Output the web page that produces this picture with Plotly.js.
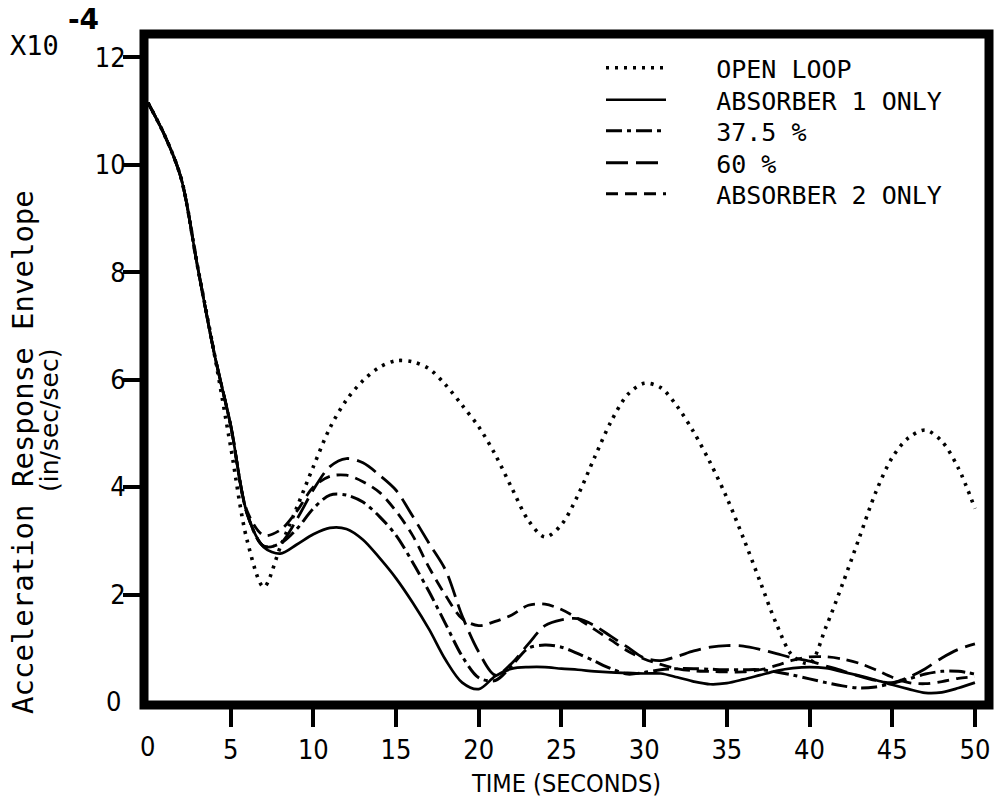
<!DOCTYPE html>
<html><head><meta charset="utf-8">
<script src="https://cdn.plot.ly/plotly-3.0.1.min.js"></script>
<style>html,body{margin:0;padding:0;background:#fff}#chart{width:994px;height:804px}</style>
</head><body><div id="chart"></div>
<script>
const timeSec = [0,1,2,3,4,5,6,7,8,9,10,11,12,13,14,15,16,17,18,19,20,21,22,23,24,25,26,27,28,29,30,31,32,33,34,35,36,37,38,39,40,41,42,43,44,45,46,47,48,49,50];

const openLoop = [11.15,10.55,9.75,8.1,6.5,4.75,3.0,2.14,2.88,3.62,4.38,5.1,5.62,5.98,6.23,6.35,6.33,6.2,5.9,5.52,5.12,4.6,3.98,3.38,3.07,3.3,3.85,4.55,5.22,5.72,5.93,5.85,5.5,5.02,4.45,3.8,3.05,2.25,1.45,0.85,0.72,1.4,2.2,3.05,3.9,4.55,4.92,5.06,4.85,4.35,3.6];

const absorber1 = [11.15,10.55,9.75,8.1,6.5,5.15,3.5,2.88,2.76,2.93,3.12,3.24,3.22,3.02,2.68,2.3,1.85,1.35,0.78,0.36,0.24,0.48,0.62,0.65,0.65,0.62,0.6,0.57,0.55,0.54,0.53,0.53,0.46,0.38,0.33,0.35,0.42,0.5,0.58,0.63,0.65,0.63,0.56,0.49,0.41,0.32,0.24,0.17,0.18,0.26,0.36];

const pct375 = [11.15,10.55,9.75,8.1,6.5,5.15,3.5,2.9,2.95,3.22,3.6,3.85,3.85,3.72,3.45,3.1,2.6,2.05,1.45,0.85,0.45,0.4,0.68,1.0,1.06,1.02,0.9,0.76,0.62,0.52,0.55,0.6,0.62,0.62,0.61,0.6,0.6,0.6,0.56,0.5,0.43,0.36,0.3,0.26,0.28,0.35,0.43,0.52,0.57,0.57,0.52];

const pct60 = [11.15,10.55,9.75,8.1,6.5,5.15,3.5,2.9,2.95,3.4,3.95,4.38,4.53,4.45,4.22,3.94,3.46,2.95,2.45,1.6,0.93,0.5,0.72,1.08,1.42,1.53,1.55,1.42,1.22,1.02,0.82,0.77,0.85,0.95,1.02,1.05,1.04,0.98,0.9,0.82,0.76,0.67,0.58,0.48,0.4,0.36,0.46,0.62,0.82,0.98,1.08];

const absorber2 = [11.15,10.55,9.75,8.1,6.5,5.15,3.55,3.1,3.2,3.55,4.0,4.2,4.22,4.1,3.9,3.55,3.1,2.5,1.98,1.55,1.42,1.5,1.62,1.8,1.82,1.72,1.55,1.35,1.15,0.95,0.8,0.7,0.62,0.58,0.57,0.56,0.56,0.6,0.68,0.78,0.84,0.84,0.8,0.72,0.6,0.46,0.36,0.34,0.38,0.44,0.47];

const seriesNames = ['OPEN LOOP','ABSORBER 1 ONLY','37.5 %','60 %','ABSORBER 2 ONLY'];

// labelled tick values with marks; the origin "0" is labelled without a mark
const xTickVals = [5,10,15,20,25,30,35,40,45,50];
const xTickText = ['5','10','15','20','25','30','35','40','45','50'];
const yTickVals = [2,4,6,8,10,12];
const yTickText = ['2','4','6','8','10','12'];
const originLabel = '0';

const xRange = [-0.24, 50.85];
const yRange = [-0.056, 12.43];

const narrow = 'Liberation Sans Narrow, DejaVu Sans Condensed, Arial Narrow, sans-serif';
const mono = 'DejaVu Sans Mono, Liberation Mono, monospace';
const NB = '\u00a0\u00a0\u00a0';

const legendIds = ['legend','legend2','legend3','legend4','legend5'];
const legendRowsPx = [68, 100, 131, 163, 194];

function mk(i, y, width, dash){
  return {x: timeSec, y: y, name: NB + seriesNames[i], type:'scatter', mode:'lines', legend: legendIds[i],
    line:{color:'#000', width: width, dash: dash, shape:'spline', smoothing:0.9}, hoverinfo:'skip'};
}

const data = [
  mk(0, openLoop, 3.6, '3px,6px'),
  mk(1, absorber1, 2.7, 'solid'),
  mk(2, pct375, 3, '16px,5px,4px,5px'),
  mk(3, pct60, 2.8, '22px,8px'),
  mk(4, absorber2, 2.8, '12px,7px')
];

const tickFont = {family: narrow, size:27, color:'#000'};
const PW = 845, PH = 671;

const layout = {
  width: 994, height: 804,
  margin: {l:144, r:5, t:34, b:99},
  paper_bgcolor:'#fff', plot_bgcolor:'#fff',
  showlegend: true,
  xaxis: {range: xRange, tickmode:'array', tickvals: xTickVals, ticktext: xTickText,
    ticks:'outside', ticklen:21, tickwidth:4, tickcolor:'#000',
    showgrid:false, zeroline:false, showline:false, tickfont: tickFont,
    title:{text:'TIME (SECONDS)', font:{family: narrow, size:25, color:'#000'}, standoff:10}},
  yaxis: {range: yRange, tickmode:'array', tickvals: yTickVals, ticktext: yTickText,
    ticks:'outside', ticklen:20, tickwidth:4, tickcolor:'#000', ticklabelstandoff:-8,
    showgrid:false, zeroline:false, showline:false, tickfont: tickFont},
  shapes: [{type:'rect', xref:'paper', yref:'paper', x0:0, x1:1, y0:0, y1:1, layer:'above',
    line:{color:'#000', width:9}}],
  annotations: [
    {text: originLabel, xref:'x', yref:'paper', x:0, y:(705-747)/PH, showarrow:false,
     xanchor:'center', yanchor:'middle', font: tickFont},
    {text: originLabel, xref:'paper', yref:'y', x:(123-144)/PW, y:0, showarrow:false,
     xanchor:'right', yanchor:'middle', font: tickFont},
    {text:'Acceleration Response Envelope', xref:'paper', yref:'paper', x:(23-144)/PW, y:(705-452)/PH,
     showarrow:false, textangle:-90, xanchor:'center', yanchor:'middle', font:{family: mono, size:29, color:'#000'}},
    {text:'(in/sec/sec)', xref:'paper', yref:'paper', x:(49-144)/PW, y:(705-421)/PH,
     showarrow:false, textangle:-90, xanchor:'center', yanchor:'middle', font:{family:'DejaVu Sans', size:25, color:'#000'}},
    {text:'X10', xref:'paper', yref:'paper', x:(34-144)/PW, y:(705-46)/PH,
     showarrow:false, xanchor:'center', yanchor:'middle', font:{family: mono, size:27, color:'#000'}},
    {text:'-4', xref:'paper', yref:'paper', x:(83-144)/PW, y:(705-20)/PH,
     showarrow:false, xanchor:'center', yanchor:'middle', font:{family:'DejaVu Sans', size:28, color:'#000', weight:'bold'}}
  ]
};

legendIds.forEach(function(id, i){
  layout[id] = {x:(601-144)/PW, y:(705-legendRowsPx[i])/PH, xanchor:'left', yanchor:'middle',
    bgcolor:'rgba(0,0,0,0)', borderwidth:0, itemwidth:60,
    font:{family: mono, size:25, color:'#000'}};
});

Plotly.newPlot('chart', data, layout, {staticPlot:true, displayModeBar:false});
</script></body></html>
